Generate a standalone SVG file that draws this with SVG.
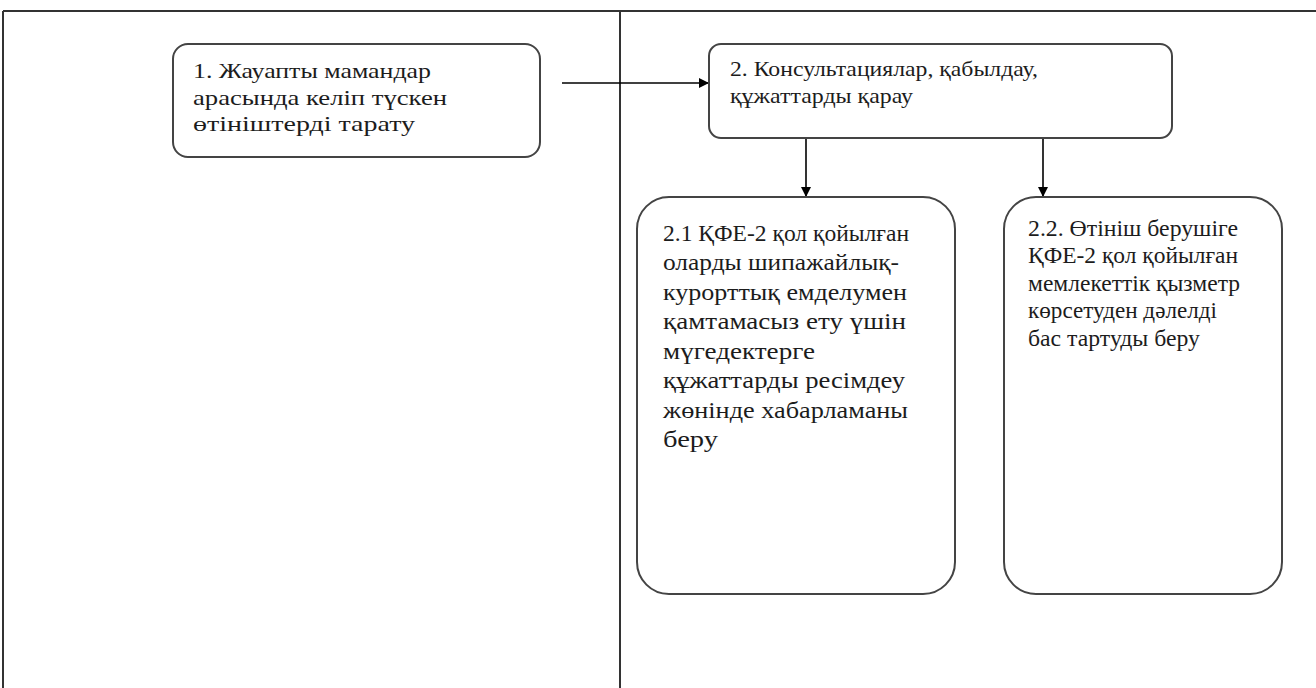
<svg xmlns="http://www.w3.org/2000/svg" width="1316" height="688" viewBox="0 0 1316 688">
<defs>
<marker id="ah" markerWidth="10" markerHeight="10" refX="9" refY="5" orient="auto" markerUnits="userSpaceOnUse">
<path d="M0,0 L10,5 L0,10 z" fill="#000"/>
</marker>
<style>
.frame{stroke:#333;stroke-width:2;fill:none}
.box{fill:#fff;stroke:#444;stroke-width:2}
.t{fill:#1c1c1c}
.c{stroke:#000;stroke-width:1.6;fill:none;marker-end:url(#ah)}
</style>
</defs>
<rect width="1316" height="688" fill="#fff"/>
<g id="frame">
<line class="frame" x1="3" y1="11" x2="1316" y2="11" stroke-width="3"/>
<line class="frame" x1="3" y1="11" x2="3" y2="688"/>
<line class="frame" x1="620" y1="11" x2="620" y2="688"/>
</g>
<g id="connectors">
<line class="c" x1="562" y1="83" x2="708" y2="83"/>
<line class="c" x1="806" y1="138" x2="806" y2="196"/>
<line class="c" x1="1043" y1="138" x2="1043" y2="196"/>
</g>
<g id="n1">
<rect class="box" x="173" y="44" width="367" height="113" rx="15"/>
<text class="t" font-family="'Liberation Serif', 'Times New Roman', 'DejaVu Serif', serif" font-size="22"><tspan x="193" y="78" textLength="238" lengthAdjust="spacingAndGlyphs">1. Жауапты мамандар</tspan><tspan x="193" y="105" textLength="254" lengthAdjust="spacingAndGlyphs">арасында келіп түскен</tspan><tspan x="193" y="131" textLength="222" lengthAdjust="spacingAndGlyphs">өтініштерді тарату</tspan></text>
</g>
<g id="n2">
<rect class="box" x="709" y="44" width="463" height="94" rx="12"/>
<text class="t" font-family="'Liberation Serif', 'Times New Roman', 'DejaVu Serif', serif" font-size="22"><tspan x="730" y="76" textLength="308" lengthAdjust="spacingAndGlyphs">2. Консультациялар, қабылдау,</tspan><tspan x="730" y="103" textLength="183" lengthAdjust="spacingAndGlyphs">құжаттарды қарау</tspan></text>
</g>
<g id="n3">
<rect class="box" x="637" y="197" width="318" height="397" rx="32"/>
<text class="t" font-family="'Liberation Serif', 'Times New Roman', 'DejaVu Serif', serif" font-size="23"><tspan x="663" y="241" textLength="246" lengthAdjust="spacingAndGlyphs">2.1  ҚФЕ-2 қол қойылған</tspan><tspan x="663" y="270" textLength="236" lengthAdjust="spacingAndGlyphs">оларды шипажайлық-</tspan><tspan x="663" y="300" textLength="244" lengthAdjust="spacingAndGlyphs">курорттық емделумен</tspan><tspan x="663" y="329" textLength="243" lengthAdjust="spacingAndGlyphs">қамтамасыз ету үшін</tspan><tspan x="663" y="359" textLength="152" lengthAdjust="spacingAndGlyphs">мүгедектерге</tspan><tspan x="663" y="388" textLength="242" lengthAdjust="spacingAndGlyphs">құжаттарды ресімдеу</tspan><tspan x="663" y="418" textLength="245" lengthAdjust="spacingAndGlyphs">жөнінде хабарламаны</tspan><tspan x="663" y="447" textLength="55" lengthAdjust="spacingAndGlyphs">беру</tspan></text>
</g>
<g id="n4">
<rect class="box" x="1004" y="197" width="278" height="397" rx="32"/>
<text class="t" font-family="'Liberation Serif', 'Times New Roman', 'DejaVu Serif', serif" font-size="23"><tspan x="1028" y="236" textLength="210" lengthAdjust="spacingAndGlyphs">2.2.  Өтініш берушіге</tspan><tspan x="1028" y="263" textLength="210" lengthAdjust="spacingAndGlyphs">ҚФЕ-2 қол қойылған</tspan><tspan x="1028" y="291" textLength="212" lengthAdjust="spacingAndGlyphs">мемлекеттік қызметр</tspan><tspan x="1028" y="318" textLength="189" lengthAdjust="spacingAndGlyphs">көрсетуден дәлелді</tspan><tspan x="1028" y="346" textLength="172" lengthAdjust="spacingAndGlyphs">бас тартуды  беру</tspan></text>
</g>
</svg>
